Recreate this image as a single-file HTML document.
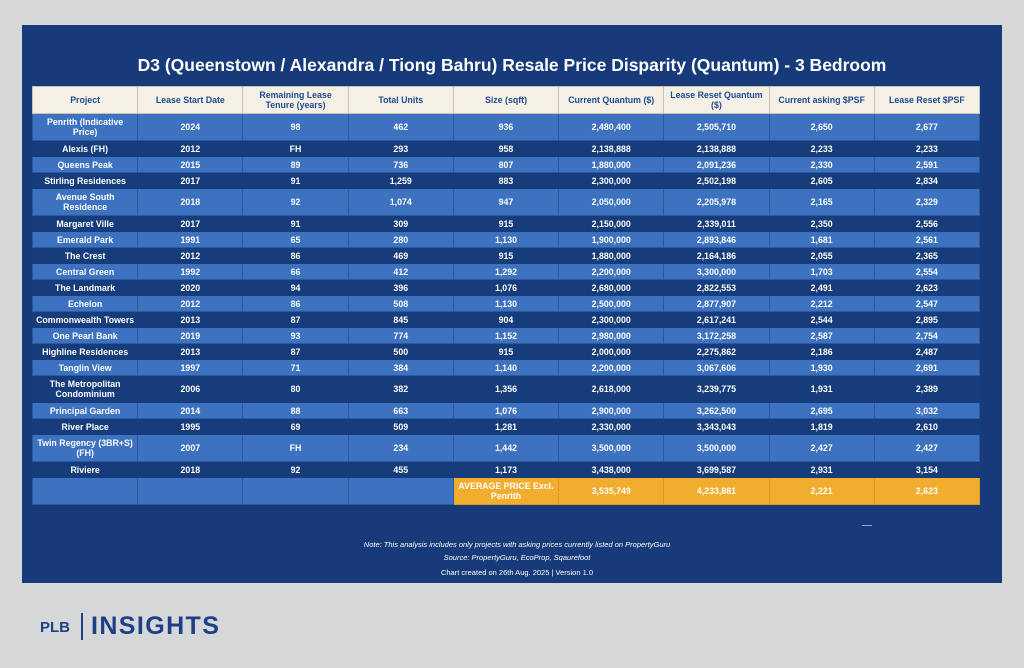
<!DOCTYPE html>
<html><head><meta charset="utf-8"><style>
body{margin:0;width:1024px;height:668px;background:#d6d7d9;font-family:"Liberation Sans",sans-serif;position:relative;overflow:hidden}
#panel{position:absolute;left:22px;top:25px;width:980px;height:558px;background:#163a7a}
h1{position:absolute;left:0;width:980px;top:30px;margin:0;text-align:center;color:#fff;font-size:17.5px;font-weight:bold}
table{position:absolute;left:10px;top:61px;border-collapse:collapse;table-layout:fixed;width:948px}
td,th{padding:0;text-align:center;font-size:8.8px;line-height:10px;color:#fff;border:1px solid #2a59a0;font-weight:bold}
th{background:#f5f0e6;color:#1f4a8f;height:26px;font-weight:bold;border-color:#c9c2b3}
tr.l td{background:#3d72c0}
tr.d td{background:#173c7c;border-color:#173c7c}
td{height:15px}
tr.t td{height:26px}
td.o{background:#f1ad2e!important;border-color:#d9992a}
.note{position:absolute;left:0;width:990px;text-align:center;color:#fff;font-size:7.5px}
</style></head><body>
<div id="panel">
<h1>D3 (Queenstown / Alexandra / Tiong Bahru) Resale Price Disparity (Quantum) - 3 Bedroom</h1>
<table>
<tr><th>Project</th><th>Lease Start Date</th><th>Remaining Lease<br>Tenure (years)</th><th>Total Units</th><th>Size (sqft)</th><th>Current Quantum ($)</th><th>Lease Reset Quantum<br>($)</th><th>Current asking $PSF</th><th>Lease Reset $PSF</th></tr>
<tr class="l t"><td>Penrith (Indicative<br>Price)</td><td>2024</td><td>98</td><td>462</td><td>936</td><td>2,480,400</td><td>2,505,710</td><td>2,650</td><td>2,677</td></tr>
<tr class="d"><td>Alexis (FH)</td><td>2012</td><td>FH</td><td>293</td><td>958</td><td>2,138,888</td><td>2,138,888</td><td>2,233</td><td>2,233</td></tr>
<tr class="l"><td>Queens Peak</td><td>2015</td><td>89</td><td>736</td><td>807</td><td>1,880,000</td><td>2,091,236</td><td>2,330</td><td>2,591</td></tr>
<tr class="d"><td>Stirling Residences</td><td>2017</td><td>91</td><td>1,259</td><td>883</td><td>2,300,000</td><td>2,502,198</td><td>2,605</td><td>2,834</td></tr>
<tr class="l t"><td>Avenue South<br>Residence</td><td>2018</td><td>92</td><td>1,074</td><td>947</td><td>2,050,000</td><td>2,205,978</td><td>2,165</td><td>2,329</td></tr>
<tr class="d"><td>Margaret Ville</td><td>2017</td><td>91</td><td>309</td><td>915</td><td>2,150,000</td><td>2,339,011</td><td>2,350</td><td>2,556</td></tr>
<tr class="l"><td>Emerald Park</td><td>1991</td><td>65</td><td>280</td><td>1,130</td><td>1,900,000</td><td>2,893,846</td><td>1,681</td><td>2,561</td></tr>
<tr class="d"><td>The Crest</td><td>2012</td><td>86</td><td>469</td><td>915</td><td>1,880,000</td><td>2,164,186</td><td>2,055</td><td>2,365</td></tr>
<tr class="l"><td>Central Green</td><td>1992</td><td>66</td><td>412</td><td>1,292</td><td>2,200,000</td><td>3,300,000</td><td>1,703</td><td>2,554</td></tr>
<tr class="d"><td>The Landmark</td><td>2020</td><td>94</td><td>396</td><td>1,076</td><td>2,680,000</td><td>2,822,553</td><td>2,491</td><td>2,623</td></tr>
<tr class="l"><td>Echelon</td><td>2012</td><td>86</td><td>508</td><td>1,130</td><td>2,500,000</td><td>2,877,907</td><td>2,212</td><td>2,547</td></tr>
<tr class="d"><td>Commonwealth Towers</td><td>2013</td><td>87</td><td>845</td><td>904</td><td>2,300,000</td><td>2,617,241</td><td>2,544</td><td>2,895</td></tr>
<tr class="l"><td>One Pearl Bank</td><td>2019</td><td>93</td><td>774</td><td>1,152</td><td>2,980,000</td><td>3,172,258</td><td>2,587</td><td>2,754</td></tr>
<tr class="d"><td>Highline Residences</td><td>2013</td><td>87</td><td>500</td><td>915</td><td>2,000,000</td><td>2,275,862</td><td>2,186</td><td>2,487</td></tr>
<tr class="l"><td>Tanglin View</td><td>1997</td><td>71</td><td>384</td><td>1,140</td><td>2,200,000</td><td>3,067,606</td><td>1,930</td><td>2,691</td></tr>
<tr class="d t"><td>The Metropolitan<br>Condominium</td><td>2006</td><td>80</td><td>382</td><td>1,356</td><td>2,618,000</td><td>3,239,775</td><td>1,931</td><td>2,389</td></tr>
<tr class="l"><td>Principal Garden</td><td>2014</td><td>88</td><td>663</td><td>1,076</td><td>2,900,000</td><td>3,262,500</td><td>2,695</td><td>3,032</td></tr>
<tr class="d"><td>River Place</td><td>1995</td><td>69</td><td>509</td><td>1,281</td><td>2,330,000</td><td>3,343,043</td><td>1,819</td><td>2,610</td></tr>
<tr class="l t"><td>Twin Regency (3BR+S)<br>(FH)</td><td>2007</td><td>FH</td><td>234</td><td>1,442</td><td>3,500,000</td><td>3,500,000</td><td>2,427</td><td>2,427</td></tr>
<tr class="d"><td>Riviere</td><td>2018</td><td>92</td><td>455</td><td>1,173</td><td>3,438,000</td><td>3,699,587</td><td>2,931</td><td>3,154</td></tr>
<tr class="l t"><td></td><td></td><td></td><td></td><td class="o">AVERAGE PRICE Excl.<br>Penrith</td><td class="o">3,535,749</td><td class="o">4,233,881</td><td class="o">2,221</td><td class="o">2,623</td></tr>
</table>
<div style="position:absolute;left:840px;top:500px;width:10px;height:1px;background:#8fa6cc"></div>
<div class="note" style="top:515px;font-style:italic">Note: This analysis includes only projects with asking prices currently listed on PropertyGuru</div>
<div class="note" style="top:528px;font-style:italic">Source: PropertyGuru, EcoProp, Sqaurefoot</div>
<div class="note" style="top:543px">Chart created on 26th Aug. 2025 | Version 1.0</div>
</div>
<div style="position:absolute;left:40px;top:619px;font-size:15px;font-weight:bold;color:#1d3f86">PLB</div>
<div style="position:absolute;left:81px;top:613px;width:1.5px;height:27px;background:#1d3f86"></div>
<div style="position:absolute;left:91px;top:612px;font-size:25px;font-weight:bold;color:#1d3f86;letter-spacing:1.4px">INSIGHTS</div>
</body></html>
